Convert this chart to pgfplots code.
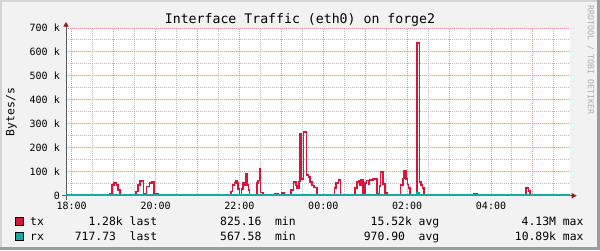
\documentclass[border=0pt]{standalone}
\usepackage{fontspec}
\setmainfont{DejaVu Sans Mono}
\usepackage{pgfplots}
\pgfplotsset{compat=1.18}
\usetikzlibrary{arrows.meta}
\definecolor{bg}{HTML}{F2F2F2}
\definecolor{shadea}{HTML}{D4D4D4}
\definecolor{shadeb}{HTML}{9C9C9C}
\definecolor{txc}{HTML}{DC143C}
\definecolor{rxc}{HTML}{1BA99E}
\definecolor{mgrid}{HTML}{EE9090}
\definecolor{mingrid}{HTML}{BBBBBB}
\definecolor{axisc}{HTML}{5A5A5A}
\definecolor{arrowc}{HTML}{8C1E1E}
\definecolor{wm}{HTML}{ADADAD}
\newcommand\titlef{\fontsize{13.2bp}{15bp}\selectfont}
\newcommand\legf{\fontsize{11.4bp}{13bp}\selectfont}
\newcommand\axf{\fontsize{10bp}{12bp}\selectfont}
\newcommand\wmf{\fontsize{8.3bp}{10bp}\selectfont}
\begin{document}
\begin{tikzpicture}[x=1bp,y=1bp]
\useasboundingbox (0,0) rectangle (600,250);
\fill[bg] (0,0) rectangle (600,250);
\fill[shadea] (0,0) rectangle (2,250);
\fill[shadea] (0,248) rectangle (600,250);
\fill[shadeb] (597,0) rectangle (600,250);
\fill[shadeb] (0,0) rectangle (600,3);
\begin{axis}[
  at={(66bp,54.3bp)}, anchor=south west,
  width=504bp, height=167.7bp, scale only axis,
  xmin=-0.136, xmax=11.884, ymin=0, ymax=700000,
  axis line style={draw=none},
  xtick={0,1,...,11},
  xticklabels={18:00,,20:00,,22:00,,00:00,,02:00,,04:00,},
  minor xtick={0.5,1.5,...,11.5},
  ytick={0,100000,200000,300000,400000,500000,600000,700000},
  yticklabels={0,100 k,200 k,300 k,400 k,500 k,600 k,700 k},
  minor ytick={50000,150000,250000,350000,450000,550000,650000},
  scaled y ticks=false,
  grid=both,
  major grid style={draw=mgrid, dash pattern=on 1bp off 1bp, line width=1bp},
  minor grid style={draw=mingrid, dash pattern=on 1bp off 1bp, line width=1bp},
  major tick length=0pt, minor tick length=0pt,
  tick label style={font=\axf, inner sep=0pt, text=black},
  xticklabel style={anchor=north},
  yticklabel style={anchor=east},
  xticklabel shift=5.8bp, yticklabel shift=6bp,
  axis background/.style={fill=white},
  clip=false,
]
\draw[axisc, line width=1bp, -{Triangle[color=arrowc,length=5bp,width=5bp]}]
  ([xshift=-4bp]rel axis cs:0,0) -- ([xshift=6.7bp]rel axis cs:1,0);
\draw[axisc, line width=1bp, -{Triangle[color=arrowc,length=4.5bp,width=5bp]}]
  ([yshift=-4bp]rel axis cs:0,0) -- ([yshift=6bp]rel axis cs:0,1);
\addplot[const plot, txc, line width=1.6bp, mark=none] coordinates {
(-0.136,1000) (0.913,10000) (0.961,45000) (1.009,52000) (1.073,45000) (1.111,24000)
(1.152,1000) (1.534,17000) (1.574,45000) (1.629,61000) (1.708,10000) (1.760,1000)
(1.784,38000) (1.851,52000) (1.908,56000) (1.963,10000) (2.065,1000)
(3.799,18000) (3.835,45000) (3.878,52000) (3.918,63000) (3.954,52000) (3.973,28000)
(4.002,1000) (4.054,27000) (4.078,52000) (4.116,45000) (4.150,90000) (4.197,45000)
(4.212,25000) (4.236,1000) (4.412,52000) (4.436,63000) (4.474,112000) (4.507,13000)
(4.555,1000) (4.849,6000) (4.913,1000) (5.008,11000) (5.056,1000)
(5.230,24000) (5.285,56000) (5.342,42000) (5.380,30000) (5.421,60000) (5.445,258000)
(5.485,70000) (5.531,265000) (5.600,87000) (5.643,77000) (5.683,57000) (5.731,42000)
(5.779,35000) (5.843,1000)
(6.263,31000) (6.303,54000) (6.358,66000) (6.411,1000)
(6.756,31000) (6.797,56000) (6.835,61000) (6.876,45000) (6.900,66000) (6.940,31000)
(6.954,1000) (6.995,52000) (7.035,64000) (7.074,50000) (7.098,66000) (7.186,70000)
(7.288,8000) (7.312,1000) (7.336,40000) (7.365,99000) (7.431,50000) (7.472,12000)
(7.527,1000) (7.846,45000) (7.894,71000) (7.925,105000) (7.973,69000) (8.009,46000)
(8.033,32000) (8.064,1000) (8.235,638000) (8.290,56000) (8.331,45000) (8.362,31000)
(8.395,1000) (9.595,6000) (9.659,1000) (10.835,31000) (10.890,20000) (10.930,1000)
(11.884,1000)
};
\addplot[const plot, rxc, line width=1.8bp, mark=none] coordinates {
(-0.136,1300) (0.90,2500) (1.15,1300) (1.53,3000) (2.07,1300) (3.80,2500) (4.56,1300)
(5.23,3500) (5.85,1300) (6.26,2000) (6.41,1300) (6.75,2500) (7.53,1300) (7.85,2500)
(8.06,1300) (8.235,10900) (8.29,2000) (8.40,1300) (11.884,1300)
};
\end{axis}
% title, labels, legend
\node[font=\titlef, anchor=base] at (300,226.2) {Interface Traffic (eth0) on forge2};
\node[font=\legf, rotate=90, inner sep=0pt] at (11.5,138) {Bytes/s};
\node[font=\wmf, text=wm, rotate=-90, inner sep=0pt] at (590.5,190) {RRDTOOL / TOBI OETIKER};
% legend boxes
\filldraw[fill=txc, draw=black, line width=0.8bp] (15,24.3) rectangle (23,32.3);
\filldraw[fill=rxc, draw=black, line width=0.8bp] (15,9.3) rectangle (23,17.3);
\begin{scope}[every node/.style={font=\legf, anchor=base west, inner sep=0pt}]
\node at (30,24.3) {tx};
\node at (88.3,24.3) {1.28k last};
\node at (220,24.3) {825.16\ \ min};
\node at (370.5,24.3) {15.52k avg};
\node at (521.5,24.3) {4.13M max};
\node at (30,9.3) {rx};
\node at (74.6,9.3) {717.73\ \ last};
\node at (220,9.3) {567.58\ \ min};
\node at (363.6,9.3) {970.90\ \ avg};
\node at (514.7,9.3) {10.89k max};
\end{scope}
\end{tikzpicture}
\end{document}
